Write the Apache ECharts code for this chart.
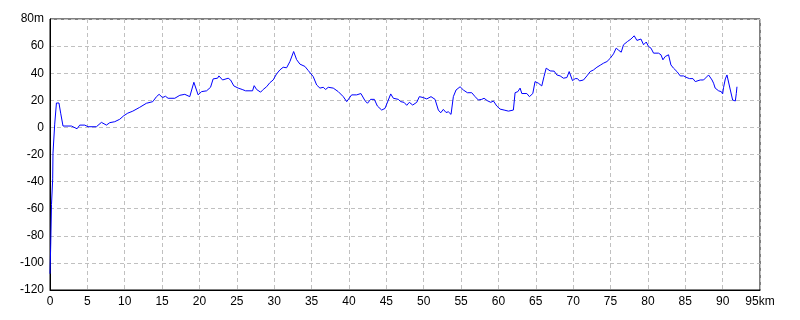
<!DOCTYPE html>
<html>
<head>
<meta charset="utf-8">
<script src="https://cdn.jsdelivr.net/npm/echarts@6/dist/echarts.min.js"></script>
<style>html,body{margin:0;padding:0;background:#fff;}#c{width:800px;height:320px;}</style>
</head>
<body>
<div id="c"></div>
<script>
const distKm = [0,0.1,0.2,0.36,0.4,0.63,0.86,1.2,1.43,1.74,2.87,3.62,3.98,4.65,5.09,6.21,6.88,7.55,8.0,8.66,9.33,9.87,10.4,11.08,12.0,12.9,13.75,14.25,14.6,15.05,15.45,15.8,16.7,17.37,18.04,18.7,19.25,19.82,20.28,20.95,21.48,21.83,22.42,22.6,23.09,23.84,24.16,24.6,25.18,25.71,26.17,27.1,27.32,27.64,28.18,28.53,28.98,29.42,29.86,30.32,30.76,31.2,31.66,32.1,32.6,33.0,33.44,34.11,34.55,35.22,35.68,36.12,36.56,36.88,37.23,37.9,38.57,39.24,39.7,40.36,41.03,41.6,42.15,42.48,42.9,43.4,43.8,44.38,44.82,45.27,45.59,45.94,46.6,46.93,47.37,47.73,48.08,48.53,49.07,49.42,49.95,50.41,50.98,51.52,51.96,52.28,52.63,52.99,53.3,53.66,53.97,54.33,54.87,55.31,55.85,56.43,56.88,57.32,57.77,58.08,58.52,58.98,59.33,59.78,60.22,60.76,61.34,62.0,62.23,62.6,62.9,63.13,63.8,64.15,64.6,64.9,65.35,65.8,66.1,66.39,66.92,67.46,67.82,68.26,68.7,68.84,69.16,69.47,69.7,69.91,70.27,70.58,70.85,71.38,71.84,72.28,72.72,73.18,73.62,74.06,74.52,74.96,75.4,75.76,76.07,76.43,76.74,77.27,77.73,78.17,78.53,78.75,79.07,79.42,79.78,80.09,80.41,80.76,81.42,81.75,82.01,82.32,82.76,83.08,83.43,83.89,84.33,84.77,85.23,85.58,86.03,86.34,86.57,87.0,87.45,87.68,88.12,88.58,88.79,89.0,89.46,89.82,90.0,90.13,90.36,90.58,90.8,91.03,91.34,91.7,91.83,91.92];
const elevM = [-108,-86,-57,-38,-19,2.4,18,18,10.5,1,1,-1,1.7,1.7,0.5,0.5,3.7,1.7,3.5,4.2,6,8.6,10.5,12,14.8,17.8,19,22.7,24.4,22,23,21.5,21.5,23.7,24.4,22.7,33.3,24,26.4,27,29.6,35.8,36.3,38,35,36.3,35,30.6,29,28,27,27,30.8,28,26,28,30,33,35,39.5,42.4,44.4,44,48.6,56,50,46.7,45,42,37.5,31.3,29,29.6,28,29.6,29,26.4,22.7,19,24,24,25,19.7,17.8,20.7,20.7,15.8,12.8,14,20.2,24.7,21.5,20.7,19,18.5,16.3,18.5,16.5,18.5,22.7,22,21,22.7,20.7,12.8,10.8,13.3,11,11.5,9.6,22.7,27.6,30,27.6,25.6,25.6,22.7,20.2,20.7,21.5,19.7,18.5,19.5,15.8,13.5,12.8,12,12.8,25.6,26.4,29,25,25,22.7,25,33.8,32.6,30.6,37.5,43.7,41.7,41.5,38.7,38,36.3,35,36.8,41.2,40,34.5,36,36,34.3,35,38,41.2,42.4,44.4,45.9,47.4,48.6,51,54.3,58.5,57,55.5,61,63.4,65.2,67.6,64.2,63.4,65.2,61,63,59.7,58.5,54.8,54.8,53.6,49.9,52.3,53.6,46.1,43.7,41.2,38,38,36.7,36,36,33.8,33.3,35,35,35.5,38.7,35,32.6,29,27,26.4,24.7,29.6,35.8,38.7,37.5,27.6,20.2,19.5,25,30];
const xTicks = {min:0, max:95, step:5, unit:'km'};
const yTicks = {min:-120, max:80, step:20, unit:'m'};

const chart = echarts.init(document.getElementById('c'), null, {renderer:'canvas'});
const fontFamily = '"Liberation Sans", "DejaVu Sans", sans-serif';
chart.setOption({
  animation:false,
  backgroundColor:'#fff',
  grid:{left:50, right:40, top:19, bottom:30, show:true, borderColor:'#000', borderWidth:1},
  xAxis:{
    type:'value', min:xTicks.min, max:xTicks.max, interval:xTicks.step,
    axisLine:{show:true, onZero:false, lineStyle:{color:'#000'}}, axisTick:{show:false},
    splitLine:{show:true, lineStyle:{color:'#c0c0c0', type:[4,3]}},
    axisLabel:{color:'#000', fontSize:12, fontFamily, margin:6,
      formatter:v=> v===xTicks.max ? v+xTicks.unit : String(v)}
  },
  yAxis:{
    type:'value', min:yTicks.min, max:yTicks.max, interval:yTicks.step,
    axisLine:{show:true, onZero:false, lineStyle:{color:'#000'}}, axisTick:{show:false},
    splitLine:{show:true, lineStyle:{color:'#c0c0c0', type:[4,3]}},
    axisLabel:{color:'#000', fontSize:12, fontFamily, margin:6,
      formatter:v=> v===yTicks.max ? v+yTicks.unit : String(v)}
  },
  series:[{
    type:'line', data:distKm.map((d,i)=>[d, elevM[i]]),
    showSymbol:false, symbol:'none',
    lineStyle:{color:'#0000ff', width:1}
  }]
});
</script>
</body>
</html>
